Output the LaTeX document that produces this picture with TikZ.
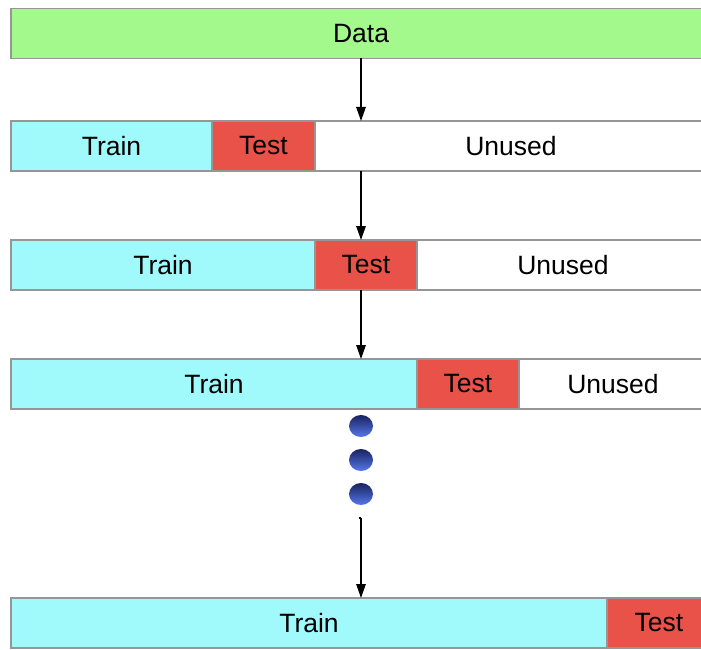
\documentclass[tikz,border=0pt]{standalone}
\usepackage{fontspec}
\setmainfont{Liberation Sans}
\usetikzlibrary{arrows.meta}
\definecolor{gbar}{RGB}{163,249,139}
\definecolor{cbar}{RGB}{160,250,251}
\definecolor{rbar}{RGB}{233,82,72}
\definecolor{edgec}{RGB}{150,150,150}
\definecolor{balltop}{RGB}{25,35,95}
\definecolor{ballbot}{RGB}{85,120,235}
\begin{document}
\begin{tikzpicture}[x=1pt,y=-1pt,
  seg/.style={draw=edgec, line width=1.5pt, minimum height=50pt, inner sep=0pt, outer sep=0pt,
    font=\fontsize{26.5}{30}\selectfont, anchor=west},
  trainseg/.style={seg, fill=cbar},
  testseg/.style={seg, fill=rbar},
  unusedseg/.style={seg, fill=white},
  arr/.style={line width=1.3pt, -{Triangle[width=9.5pt,length=14pt]}},
  dot/.style={top color=balltop, bottom color=ballbot}]
\clip (0,0) rectangle (701,650);
\fill[white] (0,0) rectangle (701,650);
% Data
\node[seg, fill=gbar, minimum width=700pt] (data) at (11,33.5) {Data};
% Row 1
\node[trainseg, minimum width=201pt] (r1a) at (11,146) {Train};
\node[testseg, minimum width=103pt] (r1b) at (r1a.east) {Test};
\node[unusedseg, minimum width=392pt] (r1c) at (r1b.east) {Unused};
% Row 2
\node[trainseg, minimum width=304pt] (r2a) at (11,265) {Train};
\node[testseg, minimum width=102pt] (r2b) at (r2a.east) {Test};
\node[unusedseg, minimum width=292pt] (r2c) at (r2b.east) {Unused};
% Row 3
\node[trainseg, minimum width=406pt] (r3a) at (11,384) {Train};
\node[testseg, minimum width=102pt] (r3b) at (r3a.east) {Test};
\node[unusedseg, minimum width=188pt] (r3c) at (r3b.east) {Unused};
% Row 4
\node[trainseg, minimum width=596pt] (r4a) at (11,623) {Train};
\node[testseg, minimum width=104pt] (r4b) at (r4a.east) {Test};
% arrows
\draw[arr] (data.south) -- (data.south |- r1c.north);
\draw[arr] (data.south |- r1c.south) -- (data.south |- r2b.north);
\draw[arr] (data.south |- r2b.south) -- (data.south |- r3a.north);
% dots
\shade[dot] (361,426) ellipse (12 and 11);
\shade[dot] (361,460) ellipse (12 and 11);
\shade[dot] (361,494) ellipse (12 and 11);
\coordinate (lastfrom) at (361,518);
\draw[line width=1.1pt] (358.5,518) -- (lastfrom);
\draw[arr] (lastfrom) -- (lastfrom |- r4a.north);
\end{tikzpicture}
\end{document}
